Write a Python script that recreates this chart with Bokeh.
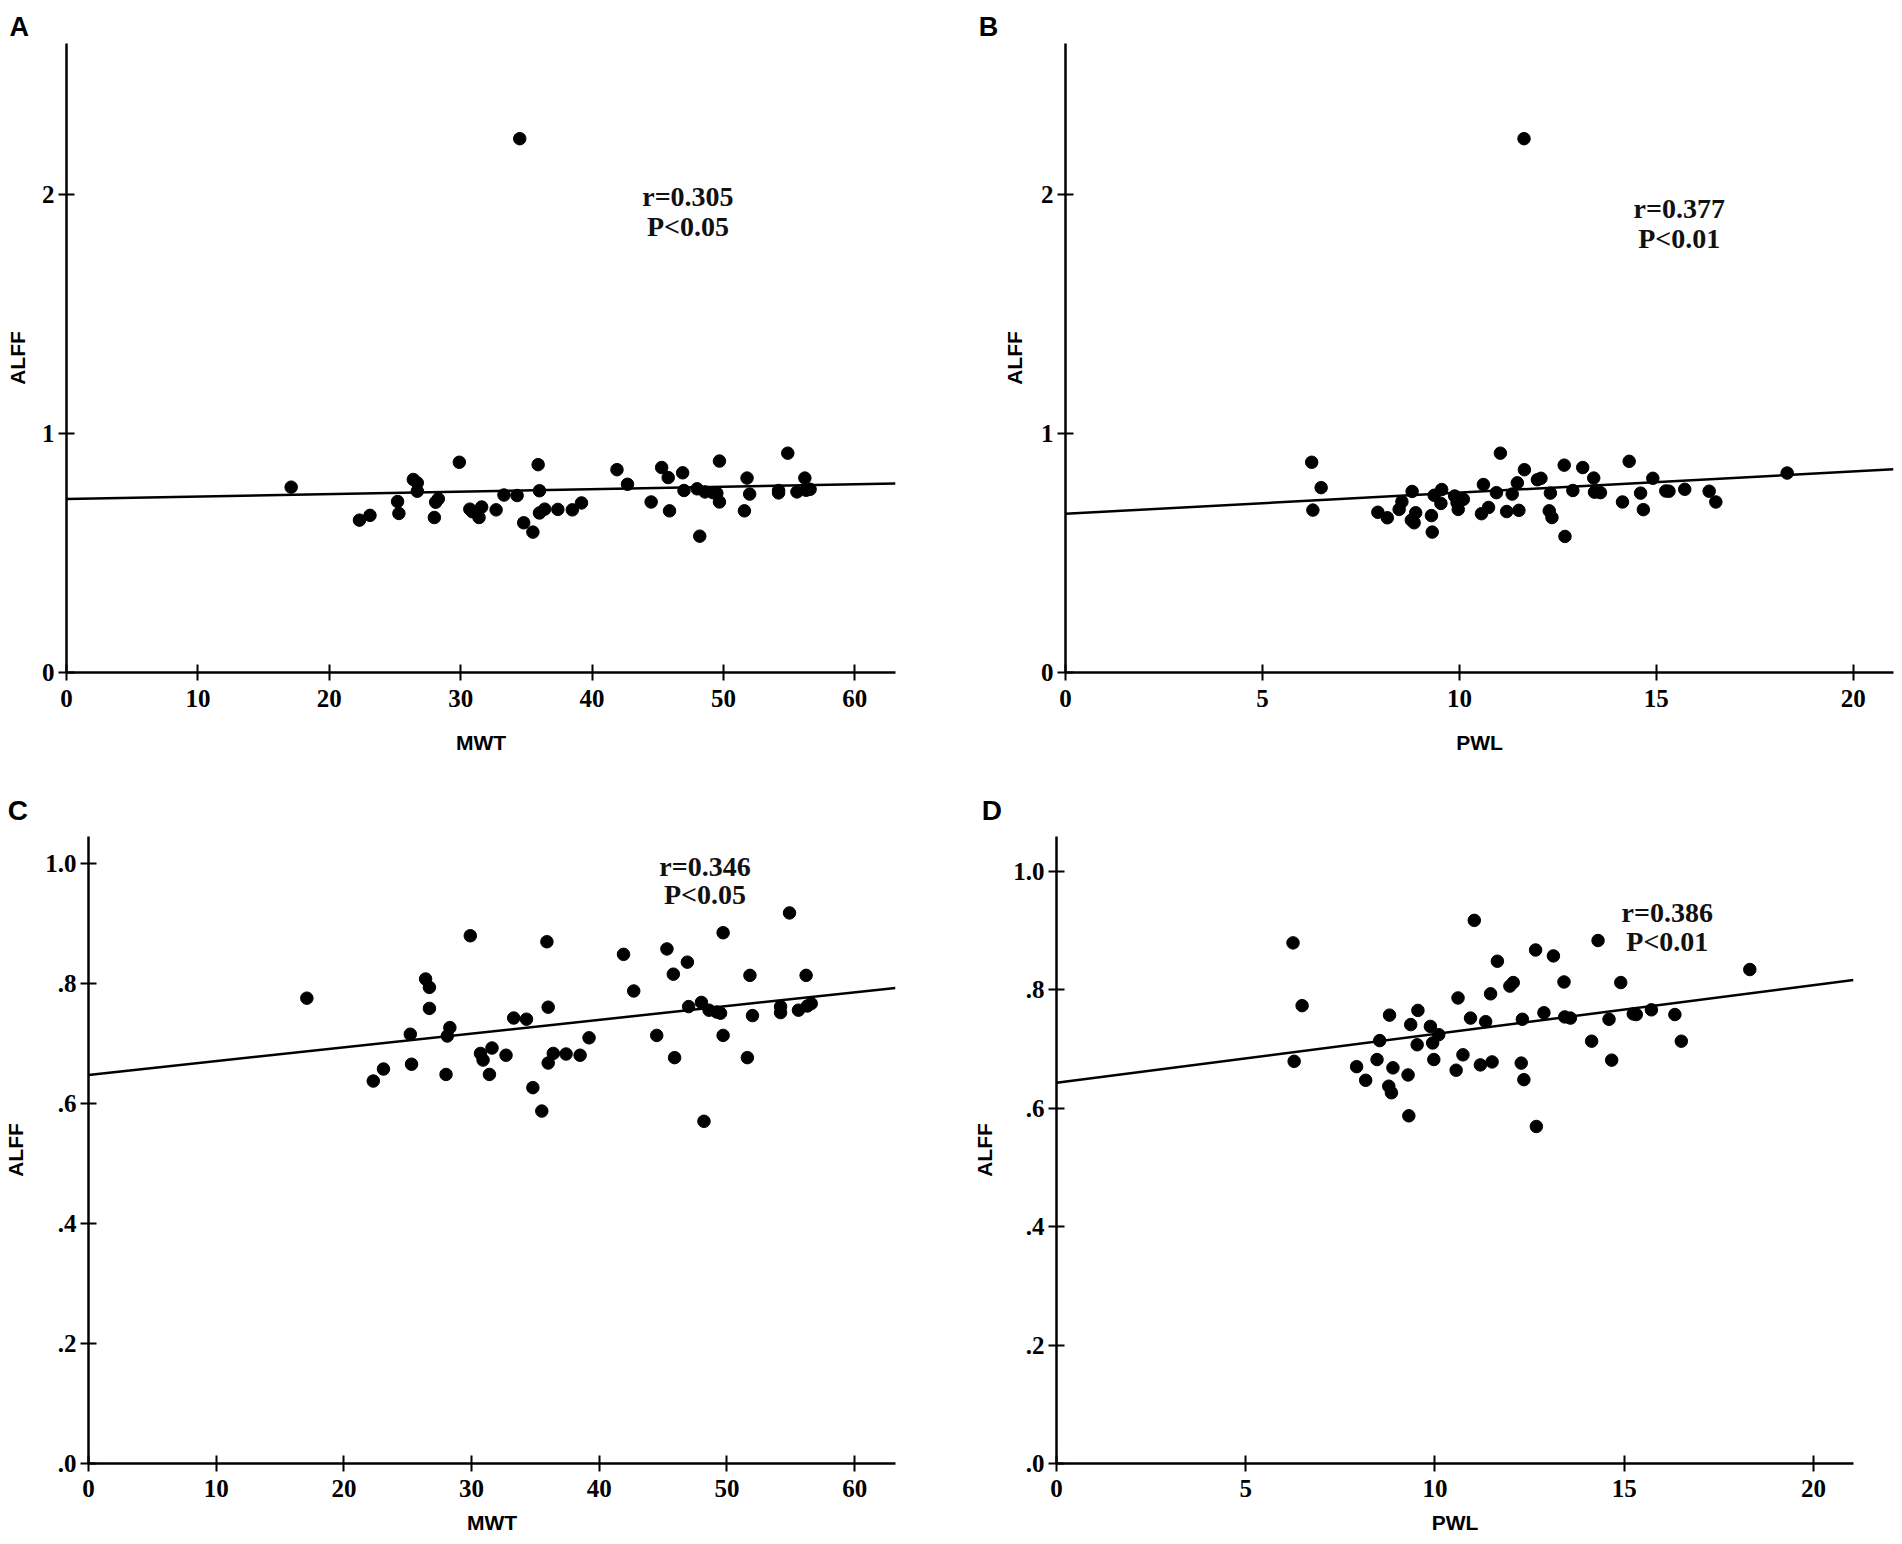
import numpy as np
from bokeh.plotting import figure
from bokeh.models import Range1d, FixedTicker, Label
from bokeh.layouts import column, row
from bokeh.embed import file_html
from bokeh.resources import INLINE

# ---------------- data ----------------
mwt = [17.1, 22.3, 23.1, 25.2, 25.3, 26.4, 26.7, 26.7, 28.0, 28.1, 28.3, 29.9,
       30.7, 30.9, 31.4, 31.6, 32.7, 33.3, 34.3, 34.8, 35.5, 35.9, 36.0, 36.0,
       36.4, 37.4, 38.5, 39.2, 41.9, 42.7, 44.5, 45.3, 45.8, 45.9, 46.9, 47.0,
       48.0, 48.2, 48.6, 49.2, 49.5, 49.7, 49.7, 51.6, 51.8, 52.0, 54.2, 54.2,
       54.9, 55.6, 56.2, 56.3, 56.6]
alff_mwt = [0.775, 0.637, 0.657, 0.715, 0.665, 0.807, 0.793, 0.758, 0.648, 0.712,
            0.726, 0.879, 0.683, 0.672, 0.648, 0.692, 0.680, 0.742, 0.740, 0.626,
            0.587, 0.869, 0.760, 0.667, 0.683, 0.682, 0.680, 0.709, 0.848, 0.787,
            0.713, 0.857, 0.815, 0.676, 0.835, 0.761, 0.768, 0.570, 0.755, 0.752,
            0.750, 0.884, 0.713, 0.676, 0.813, 0.746, 0.761, 0.751, 0.917, 0.755,
            0.813, 0.762, 0.766]

pwl = [6.25, 6.28, 6.49, 7.93, 8.17, 8.47, 8.54, 8.80, 8.78, 8.85, 8.89, 9.31,
       9.29, 9.36, 9.53, 9.55, 9.88, 9.94, 9.97, 10.1, 10.56, 10.61, 10.74, 10.94,
       11.04, 11.2, 11.34, 11.47, 11.51, 11.65, 11.98, 12.07, 12.28, 12.31, 12.35,
       12.66, 12.68, 12.88, 13.13, 13.41, 13.43, 13.58, 14.14, 14.31, 14.60, 14.67,
       14.91, 15.24, 15.32, 15.72, 16.34, 16.51, 18.32]
alff_pwl = [0.879, 0.679, 0.773, 0.670, 0.647, 0.682, 0.714, 0.757, 0.637, 0.626,
            0.668, 0.587, 0.656, 0.741, 0.707, 0.765, 0.738, 0.710, 0.682, 0.724,
            0.664, 0.786, 0.690, 0.752, 0.917, 0.673, 0.746, 0.793, 0.678, 0.848,
            0.806, 0.812, 0.676, 0.750, 0.648, 0.867, 0.569, 0.761, 0.857, 0.813,
            0.754, 0.752, 0.713, 0.883, 0.750, 0.681, 0.812, 0.759, 0.758, 0.766,
            0.758, 0.713, 0.834]

# one extra subject shown only in panels A and B
outlier_mwt = [34.5]
outlier_pwl = [11.64]
outlier_alff = [2.232]

stats_a = ["r=0.305", "P<0.05"]
stats_b = ["r=0.377", "P<0.01"]
stats_c = ["r=0.346", "P<0.05"]
stats_d = ["r=0.386", "P<0.01"]

ticks_mwt = [0, 10, 20, 30, 40, 50, 60]
ticks_pwl = [0, 5, 10, 15, 20]
ticks_alff_full = [0, 1, 2]
ticks_alff_zoom = [0, 0.2, 0.4, 0.6, 0.8, 1.0]
labels_alff_zoom = [".0", ".2", ".4", ".6", ".8", "1.0"]

SERIF = "Liberation Serif"
SANS = "Liberation Sans"


def panel(x, y, xmax, ymax, xticks, yticks, ylabels, xlabel, letter, stats,
          width, height, borders, letter_offset, letter_standoff, letter_size,
          stats_pos, stats_dy, x_label_standoff, y_label_standoff,
          x_major_standoff):
    bl, br, bt, bb = borders
    p = figure(width=width, height=height, output_backend="svg",
               toolbar_location=None,
               x_range=Range1d(0, xmax), y_range=Range1d(0, ymax),
               min_border_left=bl, min_border_right=br,
               min_border_top=bt, min_border_bottom=bb)
    p.outline_line_color = None
    p.background_fill_color = "white"
    p.border_fill_color = "white"
    p.xgrid.visible = False
    p.ygrid.visible = False

    # panel letter
    p.title.text = letter
    p.title.align = "left"
    p.title.offset = letter_offset
    p.title.standoff = letter_standoff
    p.title.text_font = SANS
    p.title.text_font_style = "bold"
    p.title.text_font_size = letter_size
    p.title.text_color = "black"

    for ax in (p.xaxis[0], p.yaxis[0]):
        ax.axis_line_width = 2.5
        ax.axis_line_color = "black"
        ax.major_tick_line_width = 2
        ax.major_tick_line_color = "black"
        ax.major_tick_in = 8
        ax.major_tick_out = 8
        ax.minor_tick_line_color = None
        ax.major_label_text_font = SERIF
        ax.major_label_text_font_style = "bold"
        ax.major_label_text_font_size = "25px"
        ax.major_label_text_color = "black"
        ax.axis_label_text_font = SANS
        ax.axis_label_text_font_style = "bold"
        ax.axis_label_text_font_size = "21px"
        ax.axis_label_text_color = "black"

    p.xaxis.ticker = FixedTicker(ticks=xticks)
    p.yaxis.ticker = FixedTicker(ticks=yticks)
    if ylabels is not None:
        p.yaxis.major_label_overrides = {t: s for t, s in zip(yticks, ylabels)}
    p.xaxis.axis_label = xlabel
    p.yaxis.axis_label = "ALFF"
    p.xaxis.major_label_standoff = x_major_standoff
    p.yaxis.major_label_standoff = 4
    p.xaxis.axis_label_standoff = x_label_standoff
    p.yaxis.axis_label_standoff = y_label_standoff

    # regression line computed from the plotted points
    slope, intercept = np.polyfit(np.asarray(x, float), np.asarray(y, float), 1)
    xs = [0.0, xmax]
    ys = [intercept + slope * v for v in xs]
    p.line(xs, ys, line_color="black", line_width=2.5)

    p.scatter(x, y, size=12.5, marker="circle", fill_color="black",
              line_color="black")

    for i, s in enumerate(stats):
        p.add_layout(Label(x=stats_pos[0], y=stats_pos[1] - i * stats_dy, text=s,
                           text_font=SERIF, text_font_style="bold",
                           text_font_size="28px", text_color="#111111",
                           text_align="center", text_baseline="alphabetic"))
    return p


pA = panel(mwt + outlier_mwt, alff_mwt + outlier_alff, 63.1, 2.63,
           ticks_mwt, ticks_alff_full, None, "MWT", "A", stats_a,
           960, 772, (66, 65, 43, 100), -57.0, 4, "27px",
           (47.3, 1.991), 0.127, 21, 10, 9)
pB = panel(pwl + outlier_pwl, alff_pwl + outlier_alff, 21.02, 2.63,
           ticks_pwl, ticks_alff_full, None, "PWL", "B", stats_b,
           942, 772, (105, 9, 43, 100), -86.7, 4, "27px",
           (15.58, 1.939), 0.123, 21, 12, 9)
pC = panel(mwt, alff_mwt, 63.2, 1.0443,
           ticks_mwt, ticks_alff_zoom, labels_alff_zoom, "MWT", "C", stats_c,
           960, 772, (88, 65, 64, 81), -80.7, 21, "28px",
           (48.28, 0.995), 0.048, 11, 15, 8)
pD = panel(pwl, alff_pwl, 21.06, 1.0586,
           ticks_pwl, ticks_alff_zoom, labels_alff_zoom, "PWL", "D", stats_d,
           942, 772, (96, 49, 64, 81), -74.7, 21, "28px",
           (16.14, 0.931), 0.050, 11, 14, 8)

layout = column(row(pA, pB), row(pC, pD))

with open("out.html", "w") as f:
    f.write(file_html(layout, INLINE))
